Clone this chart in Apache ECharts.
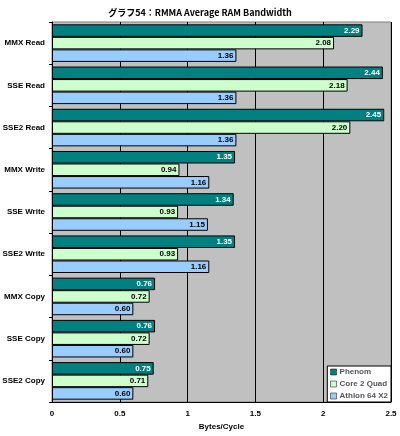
<!DOCTYPE html>
<html><head><meta charset="utf-8">
<script src="https://cdn.jsdelivr.net/npm/echarts@6/dist/echarts.min.js"></script>
<style>html,body{margin:0;padding:0;background:#fff}#c{width:400px;height:436px}</style>
</head><body><div id="c"></div>
<script>
const title = 'グラフ54：RMMA Average RAM Bandwidth';
const categories = ['MMX Read','SSE Read','SSE2 Read','MMX Write','SSE Write','SSE2 Write','MMX Copy','SSE Copy','SSE2 Copy'];
const seriesNames = ['Phenom','Core 2 Quad','Athlon 64 X2'];
const phenom = [2.29,2.44,2.45,1.35,1.34,1.35,0.76,0.76,0.75];
const core2quad = [2.08,2.18,2.20,0.94,0.93,0.93,0.72,0.72,0.71];
const athlon = [1.36,1.36,1.36,1.16,1.15,1.16,0.60,0.60,0.60];
const xTicks = [0,0.5,1,1.5,2,2.5];
const colors = ['#008080','#ccffcc','#99ccff'];
const labelColors = ['#ffffff','#000000','#000000'];
const font = '"Liberation Sans", Arial, "Noto Sans CJK JP", sans-serif';
const chart = echarts.init(document.getElementById('c'));
const mk = (i, data) => ({
  name: seriesNames[i], type: 'bar', data: data,
  barGap: '0%', barCategoryGap: '11%',
  itemStyle: {color: colors[i], borderColor: '#000', borderWidth: 1},
  label: {show: true, position: 'insideRight', offset:[2,0], color: labelColors[i], fontSize: 8, fontWeight: 'bold', fontFamily: font,
    formatter: p => p.value.toFixed(2)}
});
chart.setOption({
  animation: false,
  title: {text: title, left: 'center', top: 3, textStyle: {fontSize: 9, fontWeight: 'bold', fontFamily: '"Noto Sans CJK JP", sans-serif', color: '#000'}},
  legend: {orient: 'vertical', right: 9, bottom: 34, backgroundColor: '#fff', borderColor: '#000', borderWidth: 1, padding: [2,3,2,3],
    itemWidth: 6, itemHeight: 6, itemGap: 4, icon: 'rect',
    textStyle: {fontSize: 8, fontWeight: 'bold', fontFamily: font, padding:[0,0,0,-2]},
    itemStyle: {borderColor: '#000', borderWidth: 0.5},
    data: seriesNames},
  grid: {left: 52, right: 9, top: 22, bottom: 34, outerBoundsMode: 'none', containLabel: false,
    backgroundColor: '#c0c0c0', show: true, borderColor: '#808080', borderWidth: 1},
  xAxis: {type: 'value', min: 0, max: 2.5, interval: 0.5,
    name: 'Bytes/Cycle', nameLocation: 'middle', nameGap: 18,
    nameTextStyle: {fontSize: 8, fontWeight: 'bold', fontFamily: font, color: '#000'},
    axisLine: {show: true, lineStyle: {color: '#000'}}, axisTick: {show: false},
    axisLabel: {fontSize: 8, fontWeight: 'bold', fontFamily: font, color: '#000', margin: 8,
      formatter: v => String(v)},
    splitLine: {show: true, lineStyle: {color: '#000', width: 1}}},
  yAxis: {type: 'category', data: categories, inverse: true,
    axisLine: {show: true, lineStyle: {color: '#000'}},
    axisTick: {show: true, length: 3, lineStyle: {color: '#000'}},
    axisLabel: {fontSize: 8, fontWeight: 'bold', fontFamily: font, color: '#000', margin: 7}},
  series: [mk(0, phenom), mk(1, core2quad), mk(2, athlon)]
});
</script></body></html>
